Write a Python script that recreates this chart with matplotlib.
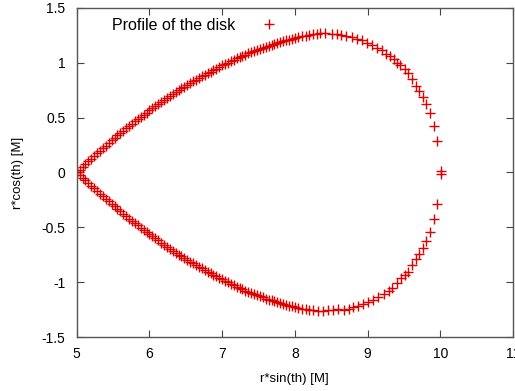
import matplotlib
matplotlib.use("Agg")
import matplotlib.pyplot as plt
from matplotlib.ticker import FormatStrFormatter

plt.rcParams["font.family"] = ["Liberation Sans", "DejaVu Sans"]

# upper half of the profile
upper_x = [5.00, 5.04, 5.08, 5.12, 5.16, 5.20, 5.24, 5.28, 5.32, 5.36, 5.40, 5.44, 5.48, 5.52,
           5.56, 5.60, 5.64, 5.68, 5.72, 5.76, 5.80, 5.84, 5.88, 5.92, 5.96, 6.00, 6.04, 6.08,
           6.12, 6.16, 6.20, 6.24, 6.28, 6.32, 6.36, 6.40, 6.44, 6.48, 6.52, 6.56, 6.60, 6.64,
           6.68, 6.72, 6.76, 6.80, 6.84, 6.88, 6.92, 6.96, 7.00, 7.04, 7.08, 7.12, 7.16, 7.20,
           7.24, 7.28, 7.32, 7.36, 7.40, 7.44, 7.48, 7.52, 7.56, 7.60, 7.64, 7.68, 7.72, 7.76,
           7.80, 7.84, 7.88, 7.92, 7.96, 8.00, 8.05, 8.10, 8.15, 8.20, 8.25, 8.30, 8.35, 8.42,
           8.51, 8.58, 8.64, 8.71, 8.78, 8.85, 8.92, 8.99, 9.06, 9.13, 9.20, 9.25, 9.31, 9.36,
           9.41, 9.45, 9.52, 9.55, 9.61, 9.67, 9.71, 9.76, 9.81, 9.86, 9.91, 9.95, 10.01]
upper_y = [0.000, 0.024, 0.049, 0.074, 0.100, 0.125, 0.149, 0.173, 0.197, 0.221, 0.245, 0.268,
           0.291, 0.314, 0.337, 0.360, 0.381, 0.402, 0.423, 0.444, 0.465, 0.485, 0.505, 0.525,
           0.545, 0.565, 0.584, 0.603, 0.622, 0.641, 0.660, 0.678, 0.696, 0.714, 0.732, 0.750,
           0.766, 0.782, 0.798, 0.814, 0.830, 0.845, 0.860, 0.875, 0.890, 0.905, 0.919, 0.933,
           0.947, 0.961, 0.975, 0.988, 1.001, 1.014, 1.027, 1.040, 1.051, 1.062, 1.073, 1.084,
           1.095, 1.105, 1.115, 1.125, 1.135, 1.145, 1.154, 1.163, 1.172, 1.181, 1.190, 1.197,
           1.204, 1.211, 1.218, 1.225, 1.232, 1.239, 1.246, 1.253, 1.258, 1.262, 1.266, 1.270,
           1.264, 1.258, 1.249, 1.243, 1.237, 1.220, 1.206, 1.180, 1.160, 1.137, 1.112, 1.082,
           1.060, 1.030, 1.000, 0.978, 0.939, 0.909, 0.854, 0.790, 0.745, 0.690, 0.620, 0.540,
           0.420, 0.285, 0.015]

# lower half of the profile
lower_x = [5.00, 5.04, 5.08, 5.12, 5.16, 5.20, 5.24, 5.28, 5.32, 5.36, 5.40, 5.44, 5.48, 5.52,
           5.56, 5.60, 5.64, 5.68, 5.72, 5.76, 5.80, 5.84, 5.88, 5.92, 5.96, 6.00, 6.04, 6.08,
           6.12, 6.16, 6.20, 6.24, 6.28, 6.32, 6.36, 6.40, 6.44, 6.48, 6.52, 6.56, 6.60, 6.64,
           6.68, 6.72, 6.76, 6.80, 6.84, 6.88, 6.92, 6.96, 7.00, 7.04, 7.08, 7.12, 7.16, 7.20,
           7.24, 7.28, 7.32, 7.36, 7.40, 7.44, 7.48, 7.52, 7.56, 7.60, 7.64, 7.68, 7.72, 7.76,
           7.80, 7.84, 7.88, 7.92, 7.96, 8.00, 8.05, 8.10, 8.15, 8.20, 8.25, 8.32, 8.39, 8.46,
           8.53, 8.60, 8.67, 8.74, 8.80, 8.87, 8.94, 9.01, 9.08, 9.15, 9.22, 9.29, 9.34, 9.40,
           9.46, 9.51, 9.55, 9.61, 9.67, 9.71, 9.76, 9.80, 9.86, 9.91, 9.95, 10.01]
lower_y = [-0.000, -0.024, -0.049, -0.073, -0.097, -0.121, -0.145, -0.169, -0.193, -0.217,
           -0.240, -0.263, -0.286, -0.309, -0.332, -0.355, -0.377, -0.399, -0.420, -0.441,
           -0.462, -0.482, -0.502, -0.522, -0.542, -0.562, -0.582, -0.601, -0.620, -0.639,
           -0.658, -0.676, -0.694, -0.712, -0.730, -0.748, -0.765, -0.781, -0.797, -0.813,
           -0.829, -0.845, -0.860, -0.875, -0.890, -0.905, -0.919, -0.933, -0.947, -0.961,
           -0.975, -0.988, -1.001, -1.014, -1.027, -1.040, -1.052, -1.064, -1.076, -1.088,
           -1.099, -1.109, -1.119, -1.129, -1.139, -1.149, -1.158, -1.167, -1.176, -1.184,
           -1.192, -1.199, -1.206, -1.213, -1.220, -1.226, -1.233, -1.240, -1.247, -1.253,
           -1.258, -1.262, -1.264, -1.258, -1.252, -1.246, -1.252, -1.240, -1.228, -1.215,
           -1.203, -1.180, -1.158, -1.137, -1.112, -1.076, -1.050, -1.010, -0.966, -0.935,
           -0.905, -0.848, -0.793, -0.747, -0.686, -0.626, -0.540, -0.420, -0.285, -0.010]

x_ticks = [5, 6, 7, 8, 9, 10, 11]
y_ticks = [-1.5, -1, -0.5, 0, 0.5, 1, 1.5]

fig = plt.figure(figsize=(5.15, 3.91), dpi=100)
ax = fig.add_axes([0.149, 0.138, 0.847, 0.842])

ax.plot(upper_x + lower_x, upper_y + lower_y, linestyle="none", marker="+",
        color="#e00000", markersize=6.5, markeredgewidth=1.0, label="Profile of the disk")

ax.set_xlim(5, 11)
ax.set_ylim(-1.5, 1.5)
ax.set_xticks(x_ticks)
ax.set_yticks(y_ticks)
ax.xaxis.set_major_formatter(FormatStrFormatter("%g"))
ax.yaxis.set_major_formatter(FormatStrFormatter("%g"))
ax.tick_params(direction="in", length=5, width=0.8, top=True, right=True,
               labelsize=10, color="#444444")
ax.tick_params(axis="x", pad=7)
ax.tick_params(axis="y", pad=8)
for s in ax.spines.values():
    s.set_color("#555555")
    s.set_linewidth(1.0)

ax.set_xlabel("r*sin(th) [M]", fontsize=9.5, labelpad=9)
ax.set_ylabel("r*cos(th) [M]", fontsize=9.5, labelpad=13)

leg = ax.legend(loc="upper left", bbox_to_anchor=(0.047, 1.013), frameon=False,
                markerfirst=False, fontsize=11.5, handlelength=1.5, handletextpad=1.4)

fig.savefig("out.png", dpi=100)
